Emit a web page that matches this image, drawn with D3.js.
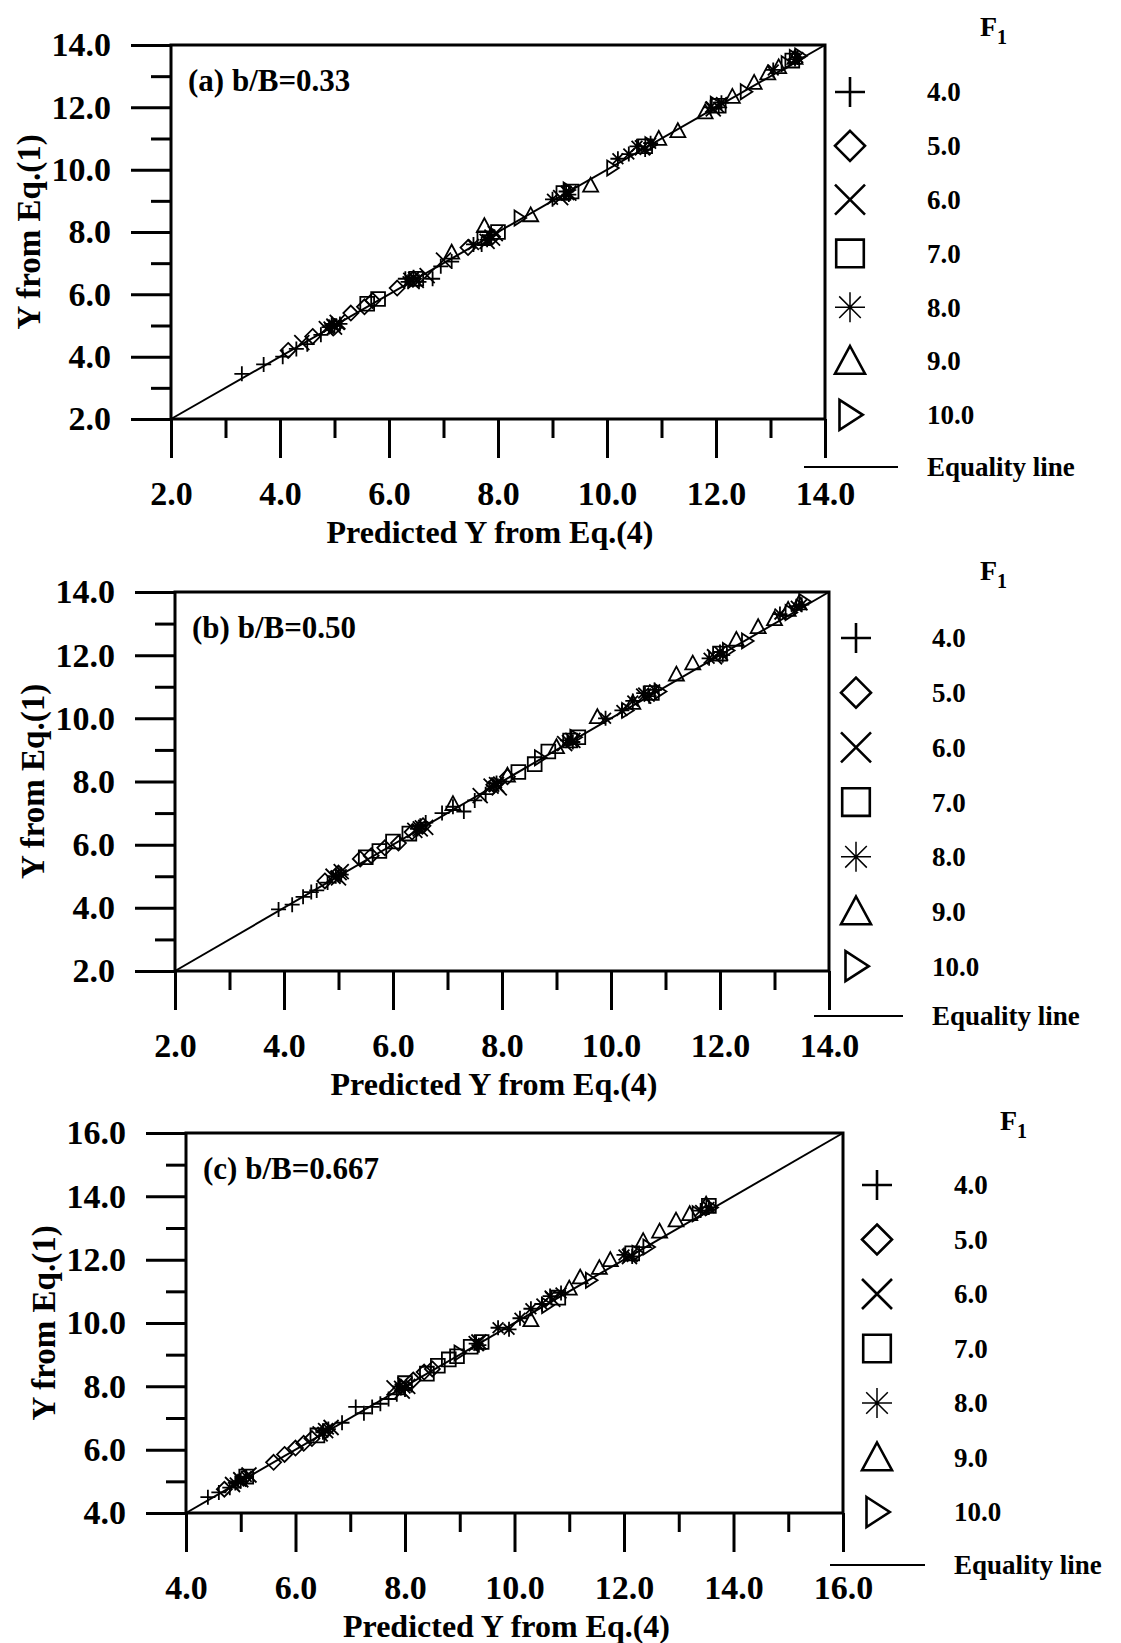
<!DOCTYPE html>
<html>
<head>
<meta charset="utf-8" />
<title>Y from Eq.(1) vs predicted Y</title>
<style>
body { margin: 0; background: #fff; }
#graph { width: 1121px; height: 1643px; }
text { font-family: "Liberation Serif", "Times New Roman", serif; font-weight: bold; fill: #000; }
.tick line { stroke: #000; stroke-width: 3; }
</style>
</head>
<body>
<div id="graph"></div>

<script src="https://cdnjs.cloudflare.com/ajax/libs/d3/7.8.5/d3.min.js"></script>
<script>
// legend / series names (F1 values)
var f1Labels = ["4.0", "5.0", "6.0", "7.0", "8.0", "9.0", "10.0"]
var symbolNames = ["plus", "diamond", "cross", "square", "asterisk", "triangle", "rtriangle"]

// tick values
var majorTicksAB = [2, 4, 6, 8, 10, 12, 14]
var minorTicksAB = [3, 5, 7, 9, 11, 13]
var majorTicksC = [4, 6, 8, 10, 12, 14, 16]
var minorTicksC = [5, 7, 9, 11, 13, 15]

// panel (a) b/B=0.33  : [predicted Y from Eq.(4), Y from Eq.(1)]
var a_F4 = [[3.3,3.45],[3.7,3.75],[4.05,4.0],[4.3,4.25],[4.5,4.4],[4.75,4.7],[4.95,5.0],[6.3,6.5],[6.55,6.4],[6.8,6.5],[6.95,6.9],[7.15,7.05],[7.7,7.6]]
var a_F5 = [[4.15,4.2],[4.6,4.65],[5.0,4.95],[5.3,5.4],[5.55,5.6],[5.7,5.8],[6.15,6.2],[6.45,6.5],[7.45,7.5],[7.9,7.85]]
var a_F6 = [[4.4,4.45],[4.85,4.9],[5.0,4.95],[5.05,5.1],[6.4,6.45],[6.5,6.45],[6.7,6.6],[7.0,7.1],[7.8,7.7],[7.9,7.8],[7.95,7.95],[9.15,9.1],[9.3,9.25],[10.65,10.7],[11.95,11.95]]
var a_F7 = [[5.6,5.7],[5.8,5.85],[6.5,6.5],[7.75,7.8],[8.0,8.0],[9.2,9.25],[9.35,9.3],[10.7,10.75],[12.05,12.05],[13.4,13.5]]
var a_F8 = [[4.9,4.95],[4.95,5.05],[5.0,5.0],[5.1,5.05],[6.35,6.4],[6.45,6.55],[7.55,7.6],[7.8,7.75],[7.85,7.9],[9.0,9.05],[9.25,9.3],[9.3,9.2],[10.2,10.35],[10.4,10.5],[10.55,10.75],[10.7,10.65],[10.8,10.85],[11.9,12.0],[12.05,12.0],[12.1,12.15],[13.05,13.2],[13.45,13.55],[13.5,13.6]]
var a_F9 = [[7.15,7.35],[7.75,8.2],[8.6,8.55],[9.7,9.5],[10.95,11.0],[11.3,11.25],[11.8,11.85],[12.3,12.35],[12.7,12.8],[12.95,13.1],[13.15,13.3],[13.45,13.6]]
var a_F10 = [[8.4,8.45],[9.3,9.35],[10.1,10.05],[10.8,10.8],[12.0,12.1],[12.55,12.5],[13.3,13.4],[13.45,13.6],[13.55,13.65]]

// panel (b) b/B=0.50
var b_F4 = [[3.9,3.95],[4.15,4.1],[4.35,4.35],[4.5,4.5],[4.6,4.55],[4.8,4.8],[5.0,5.05],[6.6,6.7],[6.9,7.0],[7.1,7.2],[7.3,7.05],[7.5,7.4],[7.7,7.6]]
var b_F5 = [[4.75,4.85],[5.0,5.1],[5.4,5.55],[5.6,5.65],[5.85,5.9],[6.1,6.05],[6.35,6.4],[6.55,6.6],[7.85,7.9],[8.1,8.15]]
var b_F6 = [[4.9,5.0],[5.05,5.15],[5.0,4.95],[6.4,6.45],[6.5,6.5],[6.6,6.55],[7.6,7.55],[7.8,7.85],[7.9,7.9],[7.95,7.8],[9.15,9.2],[9.3,9.3],[10.6,10.7],[11.9,11.95]]
var b_F7 = [[5.5,5.6],[5.75,5.8],[6.0,6.1],[6.3,6.35],[8.3,8.3],[8.6,8.55],[8.85,8.95],[9.25,9.3],[9.4,9.4],[10.75,10.8],[12.0,12.05]]
var b_F8 = [[4.95,5.0],[5.05,5.05],[6.45,6.5],[6.5,6.6],[7.85,7.85],[7.9,7.95],[9.2,9.3],[9.3,9.25],[9.9,10.0],[10.2,10.25],[10.4,10.55],[10.6,10.8],[10.7,10.7],[10.8,10.9],[11.8,11.9],[12.0,12.1],[12.05,12.0],[13.1,13.3],[13.4,13.55],[13.5,13.6]]
var b_F9 = [[7.1,7.3],[8.1,8.2],[9.0,9.1],[9.75,10.05],[10.4,10.5],[11.2,11.4],[11.5,11.75],[12.3,12.5],[12.7,12.9],[13.0,13.15],[13.25,13.45],[13.45,13.65]]
var b_F10 = [[8.7,8.75],[9.35,9.4],[10.3,10.25],[10.9,10.85],[12.15,12.15],[12.5,12.45],[13.3,13.35],[13.55,13.7]]

// panel (c) b/B=0.667
var c_F4 = [[4.4,4.5],[4.6,4.65],[4.8,4.8],[4.95,5.0],[5.1,5.1],[6.5,6.6],[6.85,6.85],[7.1,7.35],[7.25,7.15],[7.4,7.35],[7.55,7.45],[7.7,7.6],[7.85,7.75],[8.0,7.9]]
var c_F5 = [[4.7,4.75],[5.05,5.1],[5.6,5.6],[5.8,5.85],[6.0,6.05],[6.15,6.2],[6.3,6.35],[6.55,6.6],[8.15,8.2],[8.35,8.45],[8.5,8.55]]
var c_F6 = [[4.85,4.9],[5.0,5.05],[5.15,5.2],[6.45,6.5],[6.55,6.6],[6.65,6.7],[7.8,7.95],[7.95,7.85],[8.0,8.05],[8.05,8.0],[9.3,9.35],[9.35,9.4],[10.7,10.75],[12.1,12.1]]
var c_F7 = [[5.1,5.15],[6.4,6.45],[8.0,8.1],[8.4,8.4],[8.6,8.65],[8.8,8.85],[8.95,8.95],[9.2,9.25],[9.4,9.4],[10.8,10.8],[12.15,12.2],[13.55,13.7]]
var c_F8 = [[4.9,4.95],[5.0,5.0],[5.1,5.15],[6.5,6.55],[6.6,6.65],[7.9,8.0],[8.0,7.95],[9.3,9.35],[9.35,9.3],[9.7,9.85],[9.9,9.8],[10.1,10.15],[10.3,10.45],[10.5,10.6],[10.65,10.85],[10.85,10.95],[12.0,12.15],[12.15,12.1],[13.4,13.55],[13.55,13.65]]
var c_F9 = [[10.3,10.1],[11.0,11.1],[11.2,11.45],[11.55,11.75],[11.75,12.0],[12.35,12.6],[12.65,12.9],[12.95,13.25],[13.2,13.45],[13.5,13.75]]
var c_F10 = [[9.0,9.05],[10.6,10.55],[11.4,11.35],[12.25,12.2],[12.45,12.4],[13.35,13.45],[13.6,13.65]]

!(function(){
    "use strict"

    // page layout of the three panels
    var panels = [
        {label:"(a) b/B=0.33", series:[a_F4,a_F5,a_F6,a_F7,a_F8,a_F9,a_F10], major:majorTicksAB, minor:minorTicksAB,
         left:171, right:825, top:45, bottom:419, legX:850, legTextX:927, legY0:92, legDy:53.8, eqY:467, eqX:[804,898], f1:[980,36]},
        {label:"(b) b/B=0.50", series:[b_F4,b_F5,b_F6,b_F7,b_F8,b_F9,b_F10], major:majorTicksAB, minor:minorTicksAB,
         left:175, right:829, top:592, bottom:971, legX:856, legTextX:932, legY0:638, legDy:54.7, eqY:1016, eqX:[814,903], f1:[980,580]},
        {label:"(c) b/B=0.667", series:[c_F4,c_F5,c_F6,c_F7,c_F8,c_F9,c_F10], major:majorTicksC, minor:minorTicksC,
         left:186, right:843, top:1133, bottom:1513, legX:877, legTextX:954, legY0:1185, legDy:54.5, eqY:1565, eqX:[830,925], f1:[1000,1130]}
    ]

    var svg = d3.select("#graph").append("svg")
        .attr("width", 1121).attr("height", 1643)

    var fmt = d3.format(".1f")

    panels.forEach(drawPanel)

    function symbolPath(name, r) {
        var p = d3.path()
        if (name === "plus" || name === "asterisk") {
            p.moveTo(-r, 0); p.lineTo(r, 0)
            p.moveTo(0, -r); p.lineTo(0, r)
        }
        if (name === "cross" || name === "asterisk") {
            var k = name === "asterisk" ? r * 0.72 : r
            p.moveTo(-k, -k); p.lineTo(k, k)
            p.moveTo(-k, k); p.lineTo(k, -k)
        }
        if (name === "diamond") {
            p.moveTo(0, -r); p.lineTo(r, 0); p.lineTo(0, r); p.lineTo(-r, 0); p.closePath()
        }
        if (name === "square") {
            var s = r * 0.92
            p.rect(-s, -s, 2 * s, 2 * s)
        }
        if (name === "triangle") {
            p.moveTo(0, -r); p.lineTo(r, r * 0.85); p.lineTo(-r, r * 0.85); p.closePath()
        }
        if (name === "rtriangle") {
            p.moveTo(-r * 0.7, -r); p.lineTo(r * 0.85, 0); p.lineTo(-r * 0.7, r); p.closePath()
        }
        return p.toString()
    }

    function drawPanel(P) {
        var lo = P.major[0], hi = P.major[P.major.length - 1]
        var x = d3.scaleLinear().domain([lo, hi]).range([P.left, P.right])
        var y = d3.scaleLinear().domain([lo, hi]).range([P.bottom, P.top])

        var g = svg.append("g")

        // axes: major and minor ticks
        g.append("g").attr("transform", "translate(" + P.left + ",0)")
            .call(d3.axisLeft(y).tickValues(P.major).tickSize(40).tickPadding(20).tickFormat(fmt))
        g.append("g").attr("transform", "translate(" + P.left + ",0)")
            .call(d3.axisLeft(y).tickValues(P.minor).tickSize(20).tickFormat(""))
        g.append("g").attr("transform", "translate(0," + P.bottom + ")")
            .call(d3.axisBottom(x).tickValues(P.major).tickSize(39).tickPadding(23).tickFormat(fmt))
        g.append("g").attr("transform", "translate(0," + P.bottom + ")")
            .call(d3.axisBottom(x).tickValues(P.minor).tickSize(19).tickFormat(""))

        g.selectAll(".domain").remove()
        g.selectAll(".tick text").attr("font-size", 34).attr("fill", "#000")
            .style("font-family", '"Liberation Serif", serif').style("font-weight", "bold")

        // frame
        g.append("rect")
            .attr("x", P.left).attr("y", P.top)
            .attr("width", P.right - P.left).attr("height", P.bottom - P.top)
            .attr("fill", "none").attr("stroke", "#000").attr("stroke-width", 3)

        // axis titles
        g.append("text")
            .attr("x", (P.left + P.right) / 2 - 8).attr("y", P.bottom + 113)
            .attr("dy", "0.35em").attr("text-anchor", "middle").attr("font-size", 32)
            .text("Predicted Y from Eq.(4)")
        var ty = (P.top + P.bottom) / 2
        var tx = P.left - 143
        g.append("text")
            .attr("transform", "translate(" + tx + "," + ty + ") rotate(-90)")
            .attr("dy", "0.35em").attr("text-anchor", "middle").attr("font-size", 33)
            .text("Y from Eq.(1)")

        // panel label
        g.append("text")
            .attr("x", P.left + 17).attr("y", P.top + 46)
            .attr("font-size", 31)
            .text(P.label)

        // equality line
        g.append("line")
            .attr("x1", x(lo)).attr("y1", y(lo))
            .attr("x2", x(hi)).attr("y2", y(hi))
            .attr("stroke", "#000").attr("stroke-width", 2)

        // data points
        P.series.forEach(function(data, i) {
            g.append("g").selectAll("path").data(data).enter().append("path")
                .attr("transform", function(d){ return "translate(" + [x(d[0]), y(d[1])] + ")" })
                .attr("d", symbolPath(symbolNames[i], 7.5))
                .attr("fill", "none").attr("stroke", "#000").attr("stroke-width", 1.8)
        })

        // legend
        var leg = g.append("g")
        f1Labels.forEach(function(lab, i) {
            var ly = P.legY0 + i * P.legDy
            leg.append("path")
                .attr("transform", "translate(" + [P.legX, ly] + ")")
                .attr("d", symbolPath(symbolNames[i], 15))
                .attr("fill", "none").attr("stroke", "#000")
                .attr("stroke-width", symbolNames[i] === "asterisk" ? 1.5 : 2.6)
            leg.append("text")
                .attr("x", P.legTextX).attr("y", ly)
                .attr("dy", "0.35em").attr("font-size", 27)
                .text(lab)
        })
        leg.append("line")
            .attr("x1", P.eqX[0]).attr("x2", P.eqX[1])
            .attr("y1", P.eqY).attr("y2", P.eqY)
            .attr("stroke", "#000").attr("stroke-width", 2)
        leg.append("text")
            .attr("x", P.legTextX).attr("y", P.eqY)
            .attr("dy", "0.35em").attr("font-size", 27)
            .text("Equality line")

        var f1 = leg.append("text")
            .attr("x", P.f1[0]).attr("y", P.f1[1]).attr("font-size", 28)
        f1.append("tspan").text("F")
        f1.append("tspan").attr("dy", 8).attr("font-size", 20).text("1")
    }
}());
</script>
</body>
</html>
